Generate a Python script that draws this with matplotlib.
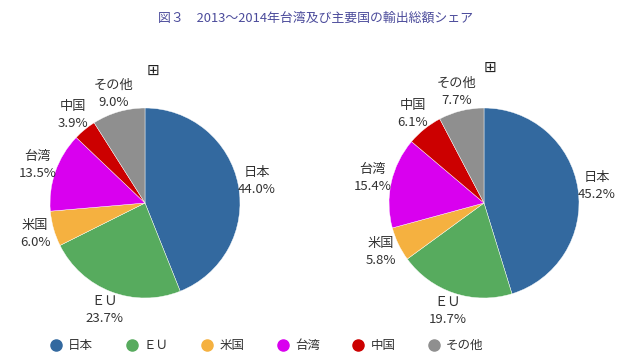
import matplotlib
matplotlib.use("Agg")
import matplotlib.pyplot as plt
from matplotlib.lines import Line2D

plt.rcParams['font.family'] = ['Noto Sans CJK JP', 'DejaVu Sans']

categories = ["日本", "ＥＵ", "米国", "台湾", "中国", "その他"]
share_2013 = [44.0, 23.7, 6.0, 13.5, 3.9, 9.0]
share_2014 = [45.2, 19.7, 5.8, 15.4, 6.1, 7.7]
colors = ["#33699F", "#57AB5E", "#F5B140", "#D900EF", "#CC0000", "#8F8F8F"]
title = "図３　2013～2014年台湾及び主要国の輸出総額シェア"

W, H = 625, 360
fig = plt.figure(figsize=(W / 100, H / 100), dpi=100)

def draw_pie(cx, cy, r, values):
    ax = fig.add_axes([(cx - r) / W, (H - cy - r) / H, 2 * r / W, 2 * r / H])
    labels = [f"{c}\n{v:.1f}%" for c, v in zip(categories, values)]
    wedges, texts = ax.pie(values, labels=labels, colors=colors, startangle=90,
                           counterclock=False, labeldistance=1.2,
                           wedgeprops=dict(linewidth=0.3, edgecolor="white"),
                           textprops=dict(fontsize=9.5, color="#333333", linespacing=1.4))
    for t in texts:
        t.set_ha("center")
        t.set_va("center")
    ax.set_xlim(-1, 1)
    ax.set_ylim(-1, 1)
    ax.set_aspect("auto")
    ax.axis("off")
    return ax

draw_pie(145, 203, 95, share_2013)
draw_pie(484, 203, 95, share_2014)

fig.text(315 / W, 1 - 18 / H, title, ha="center", va="center", fontsize=9.3, color="#4B4B9B")

for x, y in [(153, 70), (490, 67)]:
    fig.text(x / W, 1 - y / H, "⊞", ha="center", va="center", fontsize=11,
             color="#222222", family=["DejaVu Sans"])

# legend
x0, dx, ly = 56, 75.6, 345
for i, (c, col) in enumerate(zip(categories, colors)):
    mx = x0 + i * dx
    fig.add_artist(Line2D([mx / W], [1 - ly / H], marker="o", markersize=8,
                          color=col, linestyle="none", transform=fig.transFigure))
    fig.text((mx + 12) / W, 1 - ly / H, c, ha="left", va="center", fontsize=9, color="#333333")

fig.savefig("out.png", dpi=100)
